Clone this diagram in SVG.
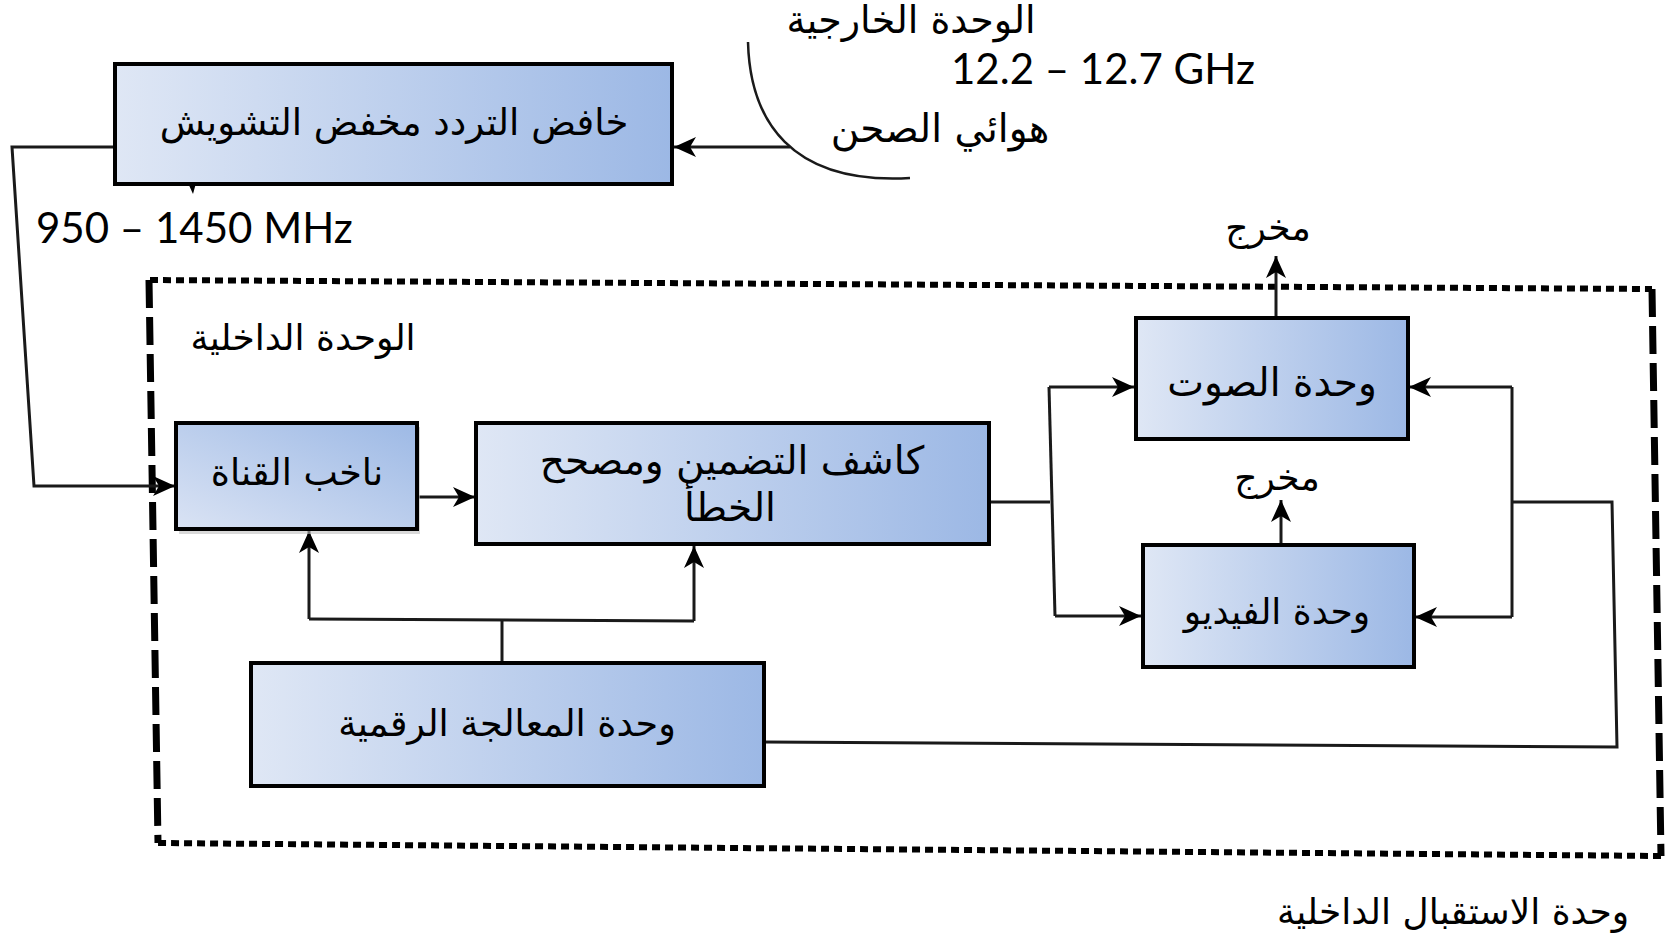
<svg xmlns="http://www.w3.org/2000/svg" width="1667" height="936" viewBox="0 0 1667 936">
  <style>
    .box { stroke: #000; stroke-width: 4; }
    .shadow { fill: #bfbfbf; opacity: 0.6; }
    .ar { font-family: "DejaVu Sans", "Noto Sans", sans-serif; fill: #000; }
    .lat { font-family: "Lato", "Open Sans", sans-serif; fill: #000; }
    .wire { fill: none; stroke: #1a1a1a; stroke-width: 3; }
    .dot { fill: none; stroke: #000; stroke-width: 6; stroke-dasharray: 8 5; }
    .dash { fill: none; stroke: #000; stroke-width: 7; stroke-dasharray: 28 9; }
  </style>
  <defs>
    <linearGradient id="g" x1="0" y1="0" x2="1" y2="0">
      <stop offset="0" stop-color="#dfe7f5"/>
      <stop offset="1" stop-color="#9cb8e5"/>
    </linearGradient>
    <linearGradient id="g2" x1="0" y1="1" x2="1" y2="0">
      <stop offset="0" stop-color="#dae3f4"/>
      <stop offset="1" stop-color="#9db9e5"/>
    </linearGradient>
    <marker id="arr" markerUnits="userSpaceOnUse" markerWidth="24" markerHeight="22" refX="22" refY="11" orient="auto">
      <path d="M0,1 L22,11 L0,21 L6,11 Z" fill="#000"/>
    </marker>
  </defs>

  <!-- dashed boundary of indoor unit -->
  <g id="indoor-boundary">
    <path class="dot" d="M150 280 L1652 289"/>
    <path class="dash" d="M1652 289 L1661 856"/>
    <path class="dot" d="M1661 856 L158 843"/>
    <path class="dash" d="M149 280 L158 843"/>
  </g>

  <!-- connectors -->
  <g id="connectors">
    <path class="wire" d="M790 147 L674 147" marker-end="url(#arr)"/>
    <path d="M748 42 C750 120 790 185 910 178" fill="none" stroke="#1a1a1a" stroke-width="2.5"/>
    <path d="M188 183 L196 183 L193 194 Z" fill="#000"/>
    <path class="wire" d="M115 147 L12 147 L34 486 L175 486" marker-end="url(#arr)"/>
    <path class="wire" d="M418 497 L475 497" marker-end="url(#arr)"/>
    <path class="wire" d="M502 662 L502 620"/>
    <path class="wire" d="M309 619 L694 621"/>
    <path class="wire" d="M309 619 L309 531" marker-end="url(#arr)"/>
    <path class="wire" d="M694 621 L694 546" marker-end="url(#arr)"/>
    <path class="wire" d="M989 502 L1050 502"/>
    <path class="wire" d="M1049 387 L1055 616"/>
    <path class="wire" d="M1049 387 L1134 387" marker-end="url(#arr)"/>
    <path class="wire" d="M1055 616 L1141 616" marker-end="url(#arr)"/>
    <path class="wire" d="M764 742 L1617 747 L1612 502 L1512 502"/>
    <path class="wire" d="M1512 387 L1512 617"/>
    <path class="wire" d="M1512 387 L1409 387" marker-end="url(#arr)"/>
    <path class="wire" d="M1512 617 L1415 617" marker-end="url(#arr)"/>
    <path class="wire" d="M1276 316 L1276 256" marker-end="url(#arr)"/>
    <path class="wire" d="M1281 543 L1281 500" marker-end="url(#arr)"/>
  </g>

  <!-- nodes -->
  <g id="lnb">
    <rect class="box" x="115" y="64" width="557" height="120" fill="url(#g)"/>
    <text class="ar" x="394" y="135" font-size="37" text-anchor="middle">خافض التردد مخفض التشويش</text>
  </g>
  <g id="channel-selector">
    <rect class="shadow" x="179" y="427" width="241" height="107"/>
    <rect class="box" x="176" y="423" width="241" height="106" fill="url(#g2)"/>
    <text class="ar" x="297" y="485" font-size="36.5" text-anchor="middle">ناخب القناة</text>
  </g>
  <g id="demodulator">
    <rect class="box" x="476" y="423" width="513" height="121" fill="url(#g)"/>
    <text class="ar" x="732" y="474" font-size="39" text-anchor="middle">كاشف التضمين ومصحح</text>
    <text class="ar" x="730" y="521" font-size="39" text-anchor="middle">الخطأ</text>
  </g>
  <g id="dsp">
    <rect class="box" x="251" y="663" width="513" height="123" fill="url(#g)"/>
    <text class="ar" x="507" y="736" font-size="36.5" text-anchor="middle">وحدة المعالجة الرقمية</text>
  </g>
  <g id="audio">
    <rect class="box" x="1136" y="318" width="272" height="121" fill="url(#g)"/>
    <text class="ar" x="1272" y="396" font-size="39" text-anchor="middle">وحدة الصوت</text>
  </g>
  <g id="video">
    <rect class="box" x="1143" y="545" width="271" height="122" fill="url(#g)"/>
    <text class="ar" x="1277" y="624" font-size="36" text-anchor="middle">وحدة الفيديو</text>
  </g>

  <!-- labels -->
  <g id="labels">
    <text class="ar" x="911" y="33" font-size="38" text-anchor="middle">الوحدة الخارجية</text>
    <text class="lat" x="951" y="84" font-size="42">12.2 – 12.7 GHz</text>
    <text class="ar" x="940" y="142" font-size="39" text-anchor="middle">هوائي الصحن</text>
    <text class="lat" x="36" y="243" font-size="42">950 – 1450 MHz</text>
    <text class="ar" x="303" y="350" font-size="36" text-anchor="middle">الوحدة الداخلية</text>
    <text class="ar" x="1268" y="240" font-size="36" text-anchor="middle">مخرج</text>
    <text class="ar" x="1277" y="490" font-size="36" text-anchor="middle">مخرج</text>
    <text class="ar" x="1453" y="924" font-size="36" text-anchor="middle">وحدة الاستقبال الداخلية</text>
  </g>
</svg>
